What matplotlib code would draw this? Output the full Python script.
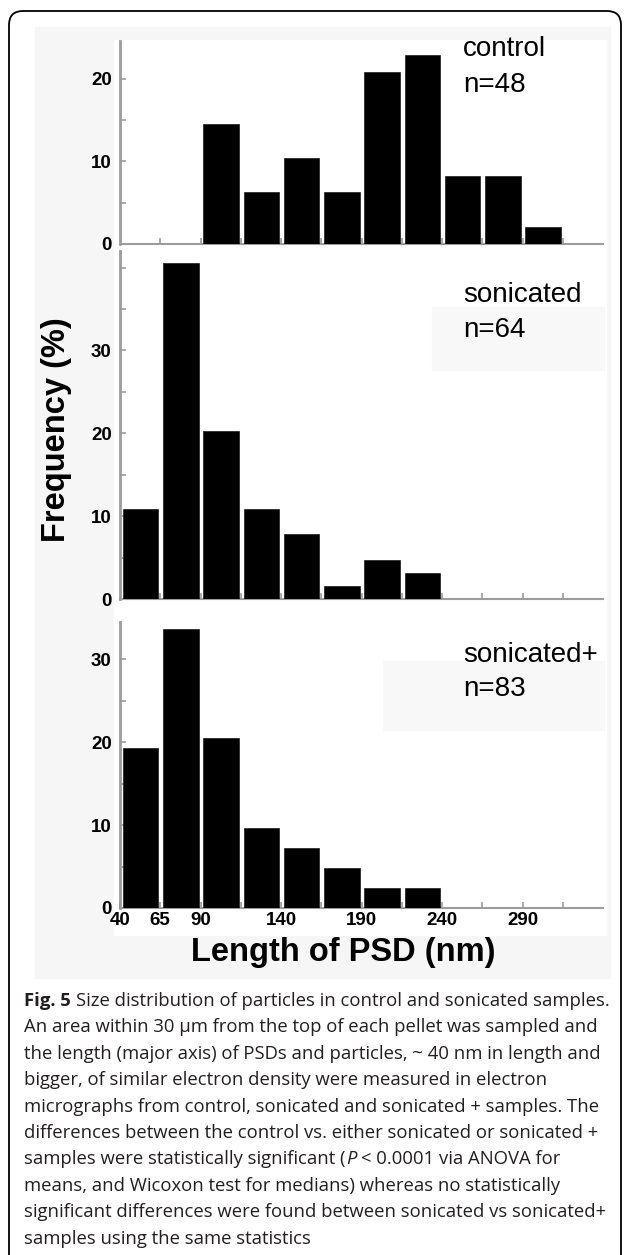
import matplotlib
matplotlib.use("Agg")
import matplotlib.pyplot as plt
from matplotlib.patches import Rectangle, FancyBboxPatch
from matplotlib.ticker import MultipleLocator
from matplotlib.transforms import IdentityTransform

# data ------------------------------------------------
bin_start = [40, 65, 90, 115, 140, 165, 190, 215, 240, 265, 290, 315]
xtick_labels = [40, 65, 90, 140, 190, 240, 290]

control = [0, 0, 14.6, 6.3, 10.4, 6.3, 20.8, 22.9, 8.3, 8.3, 2.1, 0]
sonicated = [10.9, 40.6, 20.3, 10.9, 7.8, 1.6, 4.7, 3.1, 0, 0, 0, 0]
sonicated_plus = [19.3, 33.7, 20.5, 9.6, 7.2, 4.8, 2.4, 2.4, 0, 0, 0, 0]

names = ["control", "sonicated", "sonicated+"]
counts = ["n=48", "n=64", "n=83"]

caption = [
    "An area within 30 \u00b5m from the top of each pellet was sampled and",
    "the length (major axis) of PSDs and particles, ~ 40 nm in length and",
    "bigger, of similar electron density were measured in electron",
    "micrographs from control, sonicated and sonicated + samples. The",
    "differences between the control vs. either sonicated or sonicated +",
    None,
    "means, and Wicoxon test for medians) whereas no statistically",
    "significant differences were found between sonicated vs sonicated+",
    "samples using the same statistics",
]

plt.rcParams['font.family'] = ['Liberation Sans', 'DejaVu Sans']

W, H = 625, 1255
fig = plt.figure(figsize=(W / 100, H / 100), dpi=100)
fig.patch.set_facecolor('white')


def fx(x):
    return x / W


def fy(y):
    return 1 - y / H


def rect(x0, y0, x1, y1, color):
    fig.patches.append(Rectangle((fx(x0), fy(y1)), fx(x1 - x0), (y1 - y0) / H,
                                 transform=fig.transFigure, color=color, zorder=-10))


# faint scan background ---------------------------------
rect(35, 27, 610, 978, '#f6f6f6')
rect(114, 40, 606, 935, 'white')
rect(432, 307, 604, 370, '#f8f8f8')
rect(383, 661, 604, 730, '#f8f8f8')

# card border
fig.patches.append(FancyBboxPatch((9, -40), 612, H - 11 + 40,
                                  boxstyle="round,pad=0,rounding_size=14",
                                  transform=IdentityTransform(), fill=False,
                                  edgecolor='black', linewidth=1.3, zorder=5))

# panels -------------------------------------------------
series = [control, sonicated, sonicated_plus]
boxes = [(41, 244), (251, 599), (622, 908)]   # top / bottom pixel of each axes
ytops = [24.6, 42.0, 34.5]
yticks = [[0, 10, 20], [0, 10, 20, 30], [0, 10, 20, 30]]
label_base = [(56, 92), (302, 337), (662, 696)]

axis_grey = '#9c9c9c'
for i, vals in enumerate(series):
    top, bot = boxes[i]
    ax = fig.add_axes([fx(120), fy(bot), fx(603 - 120), (bot - top) / H])
    ax.patch.set_alpha(0)
    ax.bar([b + 1.8 for b in bin_start], vals, width=22, align='edge',
           color='black', edgecolor='black', linewidth=0.4, zorder=3)
    ax.set_xlim(40, 340)
    ax.set_ylim(0, ytops[i])
    for s in ['top', 'right']:
        ax.spines[s].set_visible(False)
    ax.spines['left'].set_color(axis_grey)
    ax.spines['left'].set_linewidth(2.0)
    ax.spines['bottom'].set_color(axis_grey)
    ax.spines['bottom'].set_linewidth(1.5)
    ax.spines['left'].set_zorder(4)

    ax.set_yticks(yticks[i])
    ax.yaxis.set_minor_locator(MultipleLocator(5))
    ax.tick_params(axis='y', which='both', direction='in', length=4, width=1.2,
                   color=axis_grey, pad=6, labelsize=13.5)
    for lab in ax.get_yticklabels():
        lab.set_fontweight('bold')

    xt = bin_start[1:]
    ax.set_xticks(xt)
    ax.tick_params(axis='x', which='both', direction='in', length=4, width=1.2,
                   color=axis_grey, pad=3, labelsize=13.5)
    if i == 2:
        ax.set_xticks([40] + xt)
        ax.set_xticklabels([str(v) if v in xtick_labels else '' for v in [40] + xt],
                           fontweight='bold')
    else:
        ax.set_xticklabels([])

    b1, b2 = label_base[i]
    fig.text(fx(463), fy(b1), names[i], fontsize=20, va='baseline', ha='left')
    fig.text(fx(463), fy(b2), counts[i], fontsize=20, va='baseline', ha='left')

fig.text(fx(56), fy(430), "Frequency (%)", rotation=90, fontsize=23.5,
         fontweight='bold', ha='center', va='center')
fig.text(fx(343), fy(953), "Length of PSD (nm)", fontsize=23.5,
         fontweight='bold', ha='center', va='center')

# caption ------------------------------------------------
cap_font = ['Open Sans', 'DejaVu Sans']
cap_size = 13.3
cap_col = '#231f20'
x0 = 24
base0 = 1006
step = 26.4
renderer = fig.canvas.get_renderer()


def width_of(t):
    return t.get_window_extent(renderer).width


probe1 = fig.text(0, 0, "a a", fontsize=cap_size, family=cap_font)
probe2 = fig.text(0, 0, "aa", fontsize=cap_size, family=cap_font)
space = width_of(probe1) - width_of(probe2)
probe1.remove()
probe2.remove()

# line 1: bold "Fig. 5"
t = fig.text(fx(x0), fy(base0), "Fig. 5", fontsize=cap_size, family=cap_font,
             fontweight='bold', color=cap_col, va='baseline')
fig.text(fx(x0 + width_of(t) + space), fy(base0),
         "Size distribution of particles in control and sonicated samples.",
         fontsize=cap_size, family=cap_font, color=cap_col, va='baseline')

for k, line in enumerate(caption):
    y = base0 + (k + 1) * step
    if line is None:
        t1 = fig.text(fx(x0), fy(y), "samples were statistically significant (",
                      fontsize=cap_size, family=cap_font, color=cap_col, va='baseline')
        xa = x0 + width_of(t1) + 0.5
        t2 = fig.text(fx(xa), fy(y), "P", fontsize=cap_size, family=cap_font,
                      style='italic', color=cap_col, va='baseline')
        xb = xa + width_of(t2) + space
        fig.text(fx(xb), fy(y), "< 0.0001 via ANOVA for", fontsize=cap_size,
                 family=cap_font, color=cap_col, va='baseline')
    else:
        fig.text(fx(x0), fy(y), line, fontsize=cap_size, family=cap_font,
                 color=cap_col, va='baseline')

plt.savefig('out.png', dpi=100)
